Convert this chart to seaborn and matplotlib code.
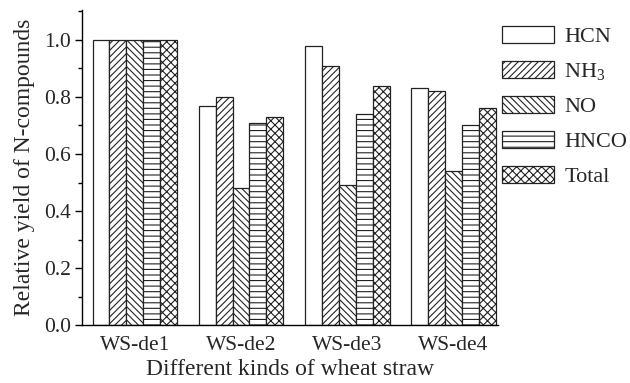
import matplotlib
matplotlib.use("Agg")
import matplotlib.pyplot as plt
import seaborn as sns
import pandas as pd
from matplotlib.patches import Patch
from matplotlib.ticker import MultipleLocator

categories = ["WS-de1", "WS-de2", "WS-de3", "WS-de4"]
series = ["HCN", "NH3", "NO", "HNCO", "Total"]
legend_labels = ["HCN", "NH$_3$", "NO", "HNCO", "Total"]
hcn = [1.0, 0.77, 0.98, 0.83]
nh3 = [1.0, 0.80, 0.91, 0.82]
no = [1.0, 0.48, 0.49, 0.54]
hnco = [1.0, 0.71, 0.74, 0.70]
total = [1.0, 0.73, 0.84, 0.76]

rows = []
for s, vals in zip(series, [hcn, nh3, no, hnco, total]):
    for c, v in zip(categories, vals):
        rows.append({"cat": c, "series": s, "value": v})
df = pd.DataFrame(rows)

sns.set_style("ticks")
plt.rcParams["font.family"] = ["Liberation Serif", "DejaVu Serif"]
plt.rcParams["mathtext.fontset"] = "custom"
plt.rcParams["mathtext.rm"] = "Liberation Serif"
plt.rcParams["mathtext.it"] = "Liberation Serif:italic"
plt.rcParams["hatch.linewidth"] = 0.8

fig = plt.figure(figsize=(6.3, 3.83), dpi=100)
ax = fig.add_axes([0.130, 0.151, 0.660, 0.823])

sns.barplot(data=df, x="cat", y="value", hue="series", order=categories,
            hue_order=series, palette=["white"] * 5, edgecolor="#222222",
            linewidth=0.9, width=0.8, ax=ax, legend=False, saturation=1)

hatches = ["", "/////", "\\\\\\\\\\", "---", "xxxx"]
for cont, h in zip(ax.containers, hatches):
    for p in cont:
        p.set_hatch(h)

ax.set_xlim(-0.5, 3.42)
ax.set_ylim(0, 1.105)
ax.yaxis.set_major_locator(MultipleLocator(0.2))
ax.yaxis.set_minor_locator(MultipleLocator(0.1))
ax.tick_params(axis="y", which="major", direction="out", length=5, width=1,
               labelsize=15.5, color="black", pad=3)
ax.tick_params(axis="y", which="minor", direction="out", length=3, width=1,
               color="black")
ax.tick_params(axis="x", length=0, labelsize=15.5, pad=8)
for s in ["top", "right"]:
    ax.spines[s].set_visible(False)
for s in ["left", "bottom"]:
    ax.spines[s].set_color("black")
    ax.spines[s].set_linewidth(1)

ax.set_xlabel("Different kinds of wheat straw", fontsize=17, labelpad=3)
ax.set_ylabel("Relative yield of N-compounds", fontsize=17, labelpad=6)

handles = [Patch(facecolor="white", edgecolor="#222222", hatch=h, linewidth=0.9)
           for h in hatches]
leg = ax.legend(handles, legend_labels, loc="upper left",
                bbox_to_anchor=(1.01, 0.95), frameon=False, fontsize=16,
                handlelength=2.35, handleheight=0.8, handletextpad=0.45,
                labelspacing=0.62, borderaxespad=0, borderpad=0)

fig.savefig("out.png", dpi=100)
